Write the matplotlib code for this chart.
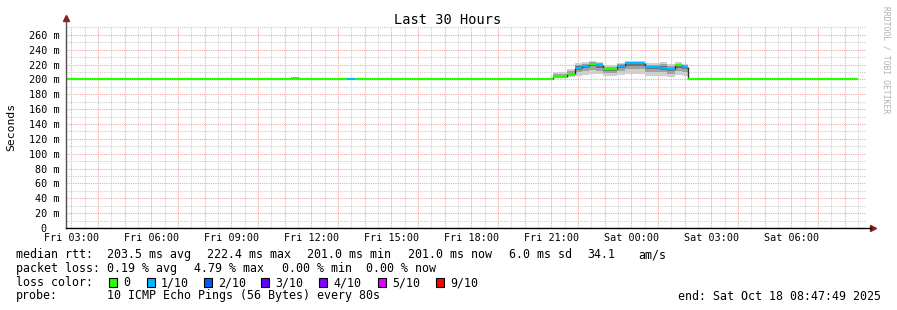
import matplotlib
matplotlib.use('Agg')
import numpy as np
import matplotlib.pyplot as plt
from matplotlib.patches import Rectangle

W, H = 897, 310
MONO = 'DejaVu Sans Mono'

# time axis in hours since Fri 00:00
t_start = 2.797   # Fri 02:47:49
t_end = 32.797    # Sat 08:47:49

# median rtt segments (ms), loss index per segment, smoke range
seg_edges = [2.80, 11.23, 11.53, 13.33, 13.63, 21.06, 21.58, 21.88, 22.15, 22.41,
             22.67, 22.93, 23.46, 23.76, 24.51, 25.07, 25.33, 25.63, 25.90, 26.12, 32.50]
seg_median = [201, 201, 201, 201, 201, 203, 207, 216, 218.5, 221,
              219, 214, 218, 222, 216.5, 216, 214, 219, 216.5, 201]
seg_loss = [0, 0, 0, 1, 0, 0, 0, 1, 1, 0,
            1, 0, 1, 1, 1, 1, 1, 0, 1, 0]
smoke_lo = [201, 202, 201, 201, 201, 202, 203, 205, 206, 208,
            207, 205, 206, 208, 205, 205, 204, 206, 205, 201]
smoke_hi = [201, 204, 201, 201, 201, 210, 214, 222, 223, 225,
            224, 219, 222, 225, 222, 223, 221, 223, 221, 201]

loss_labels = ['0', '1/10', '2/10', '3/10', '4/10', '5/10', '9/10']
loss_colors = ['#26ff00', '#00b8ff', '#0059ff', '#5e00ff', '#7e00ff', '#dd00ff', '#ff0000']

tick_hours = [3, 6, 9, 12, 15, 18, 21, 24, 27, 30]
tick_labels = ['Fri 03:00', 'Fri 06:00', 'Fri 09:00', 'Fri 12:00', 'Fri 15:00',
               'Fri 18:00', 'Fri 21:00', 'Sat 00:00', 'Sat 03:00', 'Sat 06:00']
y_ticks = list(range(0, 261, 20))

rtt_stats = ['203.5 ms avg', '222.4 ms max', '201.0 ms min', '201.0 ms now', '6.0 ms sd', '34.1', 'am/s']
loss_stats = ['0.19 % avg', '4.79 % max', '0.00 % min', '0.00 % now']


def fx(x):
    return x / W


def fy(y):
    return 1 - y / H


fig = plt.figure(figsize=(W / 100, H / 100), dpi=100)
fig.patch.set_facecolor('white')
ax = fig.add_axes([fx(66), fy(228), 800 / W, 202 / H])
ax.set_xlim(t_start, t_end)
ax.set_ylim(0, 272)
for s in ax.spines.values():
    s.set_visible(False)

# grid
ax.set_xticks(np.arange(3, 33, 1))
ax.set_xticks(np.arange(3.5, 33, 1), minor=True)
ax.set_xticklabels([tick_labels[tick_hours.index(h)] if h in tick_hours else ''
                    for h in range(3, 33)])
ax.set_yticks(y_ticks)
ax.set_yticks(range(10, 272, 20), minor=True)
ax.set_yticklabels(['0  '] + ['%d m' % v for v in y_ticks[1:]])
ax.tick_params(which='both', length=0)
ax.tick_params(axis='x', pad=3.5, labelsize=7.3)
ax.tick_params(axis='y', pad=4.5, labelsize=7.3)
for lab in ax.get_xticklabels() + ax.get_yticklabels():
    lab.set_family(MONO)
ax.grid(which='major', color='#f3a5a5', linestyle=(0, (1, 1)), linewidth=0.8)
ax.grid(which='minor', color='#cdcdcd', linestyle=(0, (1, 1)), linewidth=0.8)
ax.set_axisbelow(True)

# smoke
for i in range(len(seg_median)):
    lo, hi = smoke_lo[i], smoke_hi[i]
    if hi <= lo:
        continue
    x0, x1 = seg_edges[i], seg_edges[i + 1]
    m = seg_median[i]
    ax.fill_between([x0, x1], lo, hi, color='#cfcfcf', lw=0, zorder=3)
    ax.fill_between([x0, x1], lo + (m - lo) * 0.4, hi - (hi - m) * 0.4, color='#a2a2a2', lw=0, zorder=3)
    ax.fill_between([x0, x1], m - (m - lo) * 0.25, m + (hi - m) * 0.3, color='#727272', lw=0, zorder=3)

# median line
for i in range(len(seg_median)):
    if i > 0 and seg_median[i] != seg_median[i - 1]:
        ax.vlines(seg_edges[i], seg_median[i - 1], seg_median[i], color='#303030', lw=1, zorder=4)
for i in range(len(seg_median)):
    ax.hlines(seg_median[i], seg_edges[i], seg_edges[i + 1],
              color=loss_colors[seg_loss[i]], lw=1.6, zorder=5)

# axes with arrows
ax.plot([0, 0], [0, 1.035], transform=ax.transAxes, color='#505050', lw=1, clip_on=False, zorder=6)
ax.plot([0, 1.006], [0, 0], transform=ax.transAxes, color='black', lw=1, clip_on=False, zorder=6)
ax.plot([0.0005], [1.04], marker='^', ms=5, color='#8b1a1a', transform=ax.transAxes, clip_on=False)
ax.plot([1.0085], [0], marker='>', ms=5, color='#8b1a1a', transform=ax.transAxes, clip_on=False)

# titles
fig.text(fx(447.5), fy(24), 'Last 30 Hours', family=MONO, fontsize=9.8, ha='center', va='baseline')
fig.text(fx(11), fy(127), 'Seconds', family=MONO, fontsize=8.2, rotation=90, ha='center', va='center')
fig.text(fx(886), fy(60), 'RRDTOOL / TOBI OETIKER', family=MONO, fontsize=5.8, rotation=270,
         ha='center', va='center', color='#b0b0b0')

# legend
fs = 8.4
fig.text(fx(16), fy(258), 'median rtt:', family=MONO, fontsize=fs, va='baseline')
for x, s in zip([107, 207, 307, 408, 509, 587, 638], rtt_stats):
    fig.text(fx(x), fy(258), s, family=MONO, fontsize=fs, va='baseline')
fig.text(fx(16), fy(272), 'packet loss:', family=MONO, fontsize=fs, va='baseline')
for x, s in zip([107, 194, 282, 366], loss_stats):
    fig.text(fx(x), fy(272), s, family=MONO, fontsize=fs, va='baseline')
fig.text(fx(16), fy(286), 'loss color:', family=MONO, fontsize=fs, va='baseline')
for x, lab, col in zip([109, 147, 204, 261, 319, 378, 436], loss_labels, loss_colors):
    fig.add_artist(Rectangle((fx(x), fy(286.5)), 8 / W, 9 / H, transform=fig.transFigure,
                             facecolor=col, edgecolor='black', lw=0.8))
    fig.text(fx(x + 14), fy(286), lab, family=MONO, fontsize=fs, va='baseline')
fig.text(fx(16), fy(299.5), 'probe:', family=MONO, fontsize=fs, va='baseline')
fig.text(fx(107), fy(299.5), '10 ICMP Echo Pings (56 Bytes) every 80s', family=MONO, fontsize=fs, va='baseline')
fig.text(fx(881), fy(299.5), 'end: Sat Oct 18 08:47:49 2025', family=MONO, fontsize=fs,
         va='baseline', ha='right')

fig.savefig('out.png', dpi=100)
